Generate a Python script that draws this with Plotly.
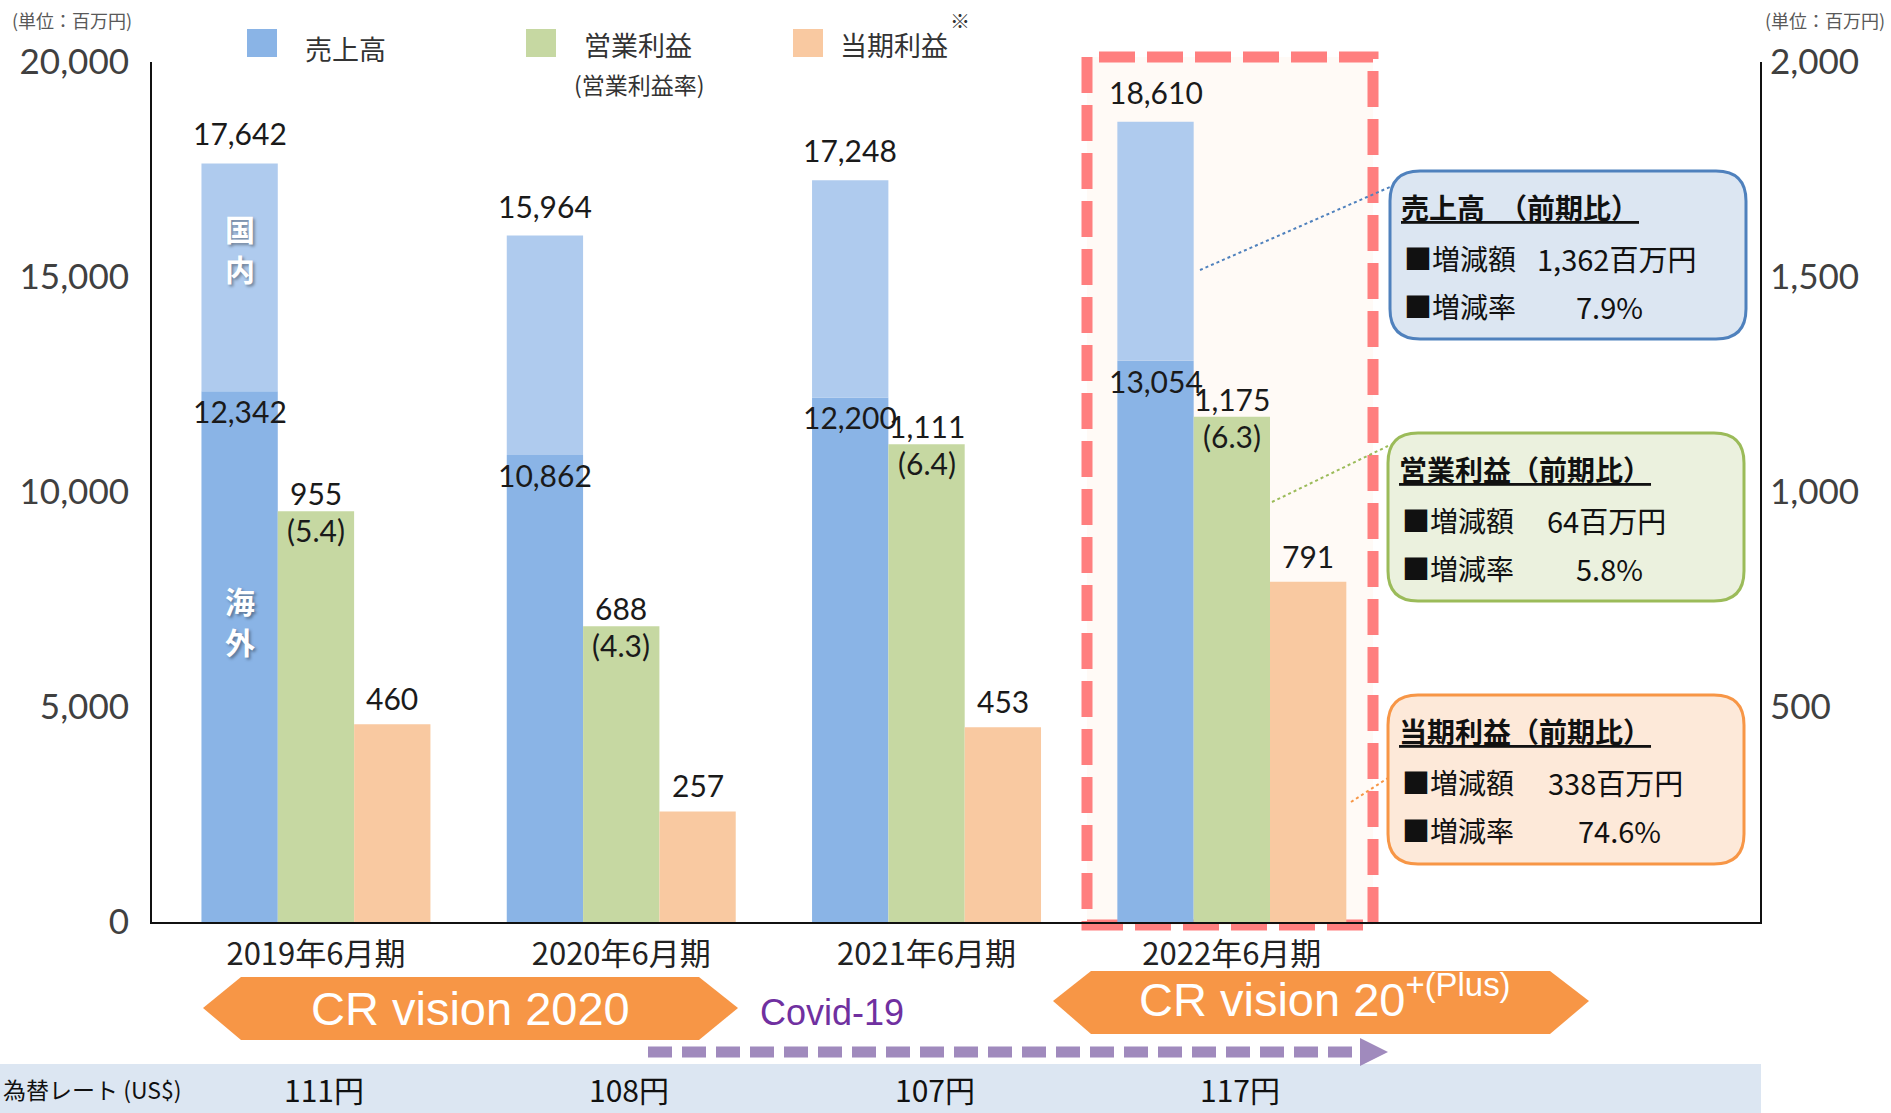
import plotly.graph_objects as go

# ---- data -------------------------------------------------------------
periods = ["2019年6月期", "2020年6月期", "2021年6月期", "2022年6月期"]
sales_total = [17642, 15964, 17248, 18610]
sales_overseas = [12342, 10862, 12200, 13054]
operating_profit = [955, 688, 1111, 1175]
operating_margin = [5.4, 4.3, 6.4, 6.3]
net_profit = [460, 257, 453, 791]
fx_rates = ["111円", "108円", "107円", "117円"]
left_ticks = [0, 5000, 10000, 15000, 20000]
right_ticks = [500, 1000, 1500, 2000]

sales_domestic = [t - o for t, o in zip(sales_total, sales_overseas)]

# year-on-year change for the latest period
d_sales = sales_total[-1] - sales_total[-2]
d_op = operating_profit[-1] - operating_profit[-2]
d_net = net_profit[-1] - net_profit[-2]
r_sales = d_sales / sales_total[-2] * 100
r_op = d_op / operating_profit[-2] * 100
r_net = d_net / net_profit[-2] * 100

# ---- layout geometry (pixels) ------------------------------------------
W, H = 1891, 1113
L, R, T, B = 152, 1760, 62, 922


def px(x):
    return (x - L) / (R - L)


def py(y):
    return (B - y) / (B - T)


def poly(points):
    return "M " + " L ".join(f"{px(x):.5f},{py(y):.5f}" for x, y in points) + " Z"


def rounded(x0, y0, x1, y1, r):
    p = lambda x, y: f"{px(x):.5f},{py(y):.5f}"
    return (f"M {p(x0 + r, y0)} L {p(x1 - r, y0)} Q {p(x1, y0)} {p(x1, y0 + r)} "
            f"L {p(x1, y1 - r)} Q {p(x1, y1)} {p(x1 - r, y1)} "
            f"L {p(x0 + r, y1)} Q {p(x0, y1)} {p(x0, y1 - r)} "
            f"L {p(x0, y0 + r)} Q {p(x0, y0)} {p(x0 + r, y0)} Z")


C_OVERSEAS = "#8AB4E6"
C_DOMESTIC = "#AFCBEE"
C_OP = "#C6D8A2"
C_NET = "#F9C9A1"
JP = "Noto Sans CJK JP"
NUM = "Lato"
BW = 0.25  # bar width in category units

fig = go.Figure()
fig.add_trace(go.Bar(x=periods, y=sales_overseas, width=BW, offset=-1.5 * BW,
                     marker=dict(color=C_OVERSEAS, line=dict(width=0)), name="海外"))
fig.add_trace(go.Bar(x=periods, y=sales_domestic, base=sales_overseas, width=BW, offset=-1.5 * BW,
                     marker=dict(color=C_DOMESTIC, line=dict(width=0)), name="国内"))
fig.add_trace(go.Bar(x=periods, y=operating_profit, width=BW, offset=-0.5 * BW, yaxis="y2",
                     marker=dict(color=C_OP, line=dict(width=0)), name="営業利益"))
fig.add_trace(go.Bar(x=periods, y=net_profit, width=BW, offset=0.5 * BW, yaxis="y2",
                     marker=dict(color=C_NET, line=dict(width=0)), name="当期利益"))

ann = []


def text(x, y, s, size, color="#1a1a1a", family=JP, xanchor="center", yanchor="middle",
         xref="paper", yref="paper", yshift=0, xshift=0, **font_kw):
    ann.append(dict(x=x, y=y, text=s, showarrow=False, xref=xref, yref=yref,
                    xanchor=xanchor, yanchor=yanchor, yshift=yshift, xshift=xshift,
                    font=dict(family=family, size=size, color=color, **font_kw)))


# bar value labels
for i in range(len(periods)):
    bc, gc, oc = i - BW, i, i + BW
    text(bc, sales_total[i], f"{sales_total[i]:,}", 30, family=NUM, xref="x", yref="y", yshift=30)
    text(bc, sales_overseas[i], f"{sales_overseas[i]:,}", 30, family=NUM, xref="x", yref="y", yshift=-20)
    text(gc, operating_profit[i], f"{operating_profit[i]:,}", 30, family=NUM, xref="x", yref="y2", yshift=18)
    text(gc, operating_profit[i], f"({operating_margin[i]})", 30, family=NUM, xref="x", yref="y2", yshift=-19)
    text(oc, net_profit[i], f"{net_profit[i]:,}", 30, family=NUM, xref="x", yref="y2", yshift=26)
    text(i, py(1089), fx_rates[i], 30, color="#111111", xref="x", xshift=8)

# segment captions inside the first sales bar
shadow = "2px 2px 3px rgba(0,0,0,0.35)"
for y_px, s in [(228, "国"), (268, "内"), (600, "海"), (641, "外")]:
    text(-BW, py(y_px), f"<b>{s}</b>", 30, color="white", xref="x", shadow=shadow)

# units
text(px(10), py(20), "(単位：百万円)", 18, color="#595959", xanchor="left")
text(px(1887), py(20), "(単位：百万円)", 18, color="#595959", xanchor="right")

# legend
shapes = []
for x0, c in [(247, C_OVERSEAS), (526, C_OP), (793, C_NET)]:
    shapes.append(dict(type="rect", xref="paper", yref="paper", x0=px(x0), x1=px(x0 + 30),
                       y0=py(57), y1=py(29), fillcolor=c, line=dict(width=0)))
text(px(303), py(48), "売上高", 27, color="#333333", xanchor="left")
text(px(582), py(45), "営業利益", 27, color="#333333", xanchor="left")
text(px(639), py(84), "(営業利益率)", 23, color="#333333")
text(px(838), py(45), "当期利益", 27, color="#333333", xanchor="left")
text(px(960), py(20), "※", 20, color="#333333")

# highlight frame around the latest period
shapes.append(dict(type="rect", xref="paper", yref="paper", layer="below",
                   x0=px(1087), x1=px(1373), y0=py(925), y1=py(57),
                   fillcolor="#FFFAF6", line=dict(color="#FF7F7F", width=11, dash="36px,12px")))

# year-on-year boxes
boxes = [
    (1390, 171, 1746, 339, "#4F81BD", "#DCE6F2", "売上高　（前期比）",
     f"{d_sales:,}百万円", f"{r_sales:.1f}%", 1535, 1574, (1200, 270), 16),
    (1388, 433, 1744, 601, "#9BBB59", "#EBF1DE", "営業利益（前期比）",
     f"{d_op:,}百万円", f"{r_op:.1f}%", 1545, 1574, (1272, 502), 13),
    (1388, 695, 1744, 864, "#F79646", "#FDE9D9", "当期利益（前期比）",
     f"{d_net:,}百万円", f"{r_net:.1f}%", 1546, 1576, (1351, 802), 83),
]
for x0, y0, x1, y1, lc, fc, title, v1, v2, vx1, vx2, (cx, cy), ty in boxes:
    shapes.append(dict(type="path", xref="paper", yref="paper", path=rounded(x0, y0, x1, y1, 30),
                       fillcolor=fc, line=dict(color=lc, width=3)))
    shapes.append(dict(type="line", xref="paper", yref="paper", x0=px(cx), y0=py(cy),
                       x1=px(x0), y1=py(y0 + ty), line=dict(color=lc, width=2, dash="dot")))
    text(px(x0 + 9), py(y0 + 36), f"<b>{title}</b>", 28, color="#111111", xanchor="left",
         lineposition="under")
    text(px(x0 + 12), py(y0 + 87), "■増減額", 28, color="#111111", xanchor="left")
    text(px(vx1), py(y0 + 87), v1, 29, color="#111111", xanchor="left")
    text(px(x0 + 12), py(y0 + 135), "■増減率", 28, color="#111111", xanchor="left")
    text(px(vx2), py(y0 + 135), v2, 29, color="#111111", xanchor="left")

# mid-term plan banners
shapes.append(dict(type="path", xref="paper", yref="paper", line=dict(width=0), fillcolor="#F79646",
                   path=poly([(203, 1008), (241, 977), (699, 977), (738, 1008), (699, 1040), (241, 1040)])))
shapes.append(dict(type="path", xref="paper", yref="paper", line=dict(width=0), fillcolor="#F79646",
                   path=poly([(1053, 1001), (1091, 971), (1550, 971), (1589, 1001), (1550, 1034), (1091, 1034)])))
text(px(470), py(1008), "CR vision 2020", 47, color="white", family="Liberation Sans")
text(px(1325), py(996), "CR vision 20<sup>+(Plus)</sup>", 47, color="white", family="Liberation Sans")

# Covid-19 period arrow
text(px(832), py(1012), "Covid-19", 36, color="#7030A0", family="Liberation Sans")
shapes.append(dict(type="line", xref="paper", yref="paper", x0=px(648), x1=px(1362), y0=py(1052), y1=py(1052),
                   line=dict(color="#A08ABD", width=11, dash="24px,10px")))
shapes.append(dict(type="path", xref="paper", yref="paper", line=dict(width=0), fillcolor="#A08ABD",
                   path=poly([(1360, 1038), (1388, 1052), (1360, 1066)])))

# exchange-rate band
shapes.append(dict(type="rect", xref="paper", yref="paper", layer="below",
                   x0=px(0), x1=px(1761), y0=py(1113), y1=py(1064),
                   fillcolor="#DCE6F2", line=dict(width=0)))
text(px(1), py(1089), "為替レート (US$)", 23, color="#111111", xanchor="left")

fig.update_layout(
    width=W, height=H, autosize=False,
    margin=dict(l=L, r=W - R, t=T, b=H - B, pad=0),
    paper_bgcolor="white", plot_bgcolor="rgba(0,0,0,0)",
    barmode="overlay", showlegend=False,
    xaxis=dict(type="category", range=[-0.537, 4.730], showline=True, linecolor="#111111", linewidth=2,
               showgrid=False, zeroline=False, ticks="", ticklabelstandoff=4,
               tickfont=dict(family=JP, size=31, color="#222222")),
    yaxis=dict(range=[0, 20000], tickvals=left_ticks, tickformat=",", showline=True,
               linecolor="#111111", linewidth=2, showgrid=False, zeroline=False, ticks="",
               ticklabelstandoff=14, tickfont=dict(family=NUM, size=35, color="#404040")),
    yaxis2=dict(range=[0, 2000], tickvals=right_ticks, tickformat=",", overlaying="y", side="right",
                showline=True, linecolor="#111111", linewidth=2, showgrid=False, zeroline=False,
                ticks="", ticklabelstandoff=1, tickfont=dict(family=NUM, size=35, color="#404040")),
    shapes=shapes,
    annotations=ann,
)

fig.write_html("out.html")
